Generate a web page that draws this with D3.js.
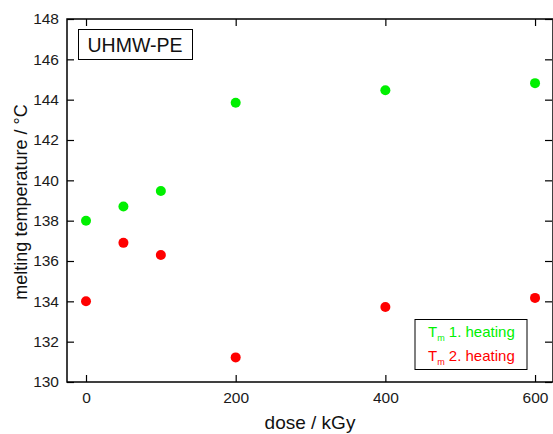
<!DOCTYPE html>
<html>
<head>
<script src="https://d3js.org/d3.v7.min.js"></script>
<style>
body{margin:0;background:#fff;}
text{font-family:"Liberation Sans",Arial,sans-serif;}
</style>
</head>
<body>
<script>
var doses=[0,50,100,200,400,600];
var tm1=[138.0,138.7,139.47,143.85,144.47,144.82];
var tm2=[134.0,136.9,136.3,131.22,133.72,134.17];
var xTicks=[0,200,400,600];
var yTicks=[130,132,134,136,138,140,142,144,146,148];

var W=553,H=434;
var margin={top:19,right:0,bottom:52,left:67};

var svg=d3.select("body").append("svg").attr("width",W).attr("height",H);

var x=d3.scaleLinear().domain([-25.4,624]).range([margin.left,W-margin.right]);
var y=d3.scaleLinear().domain([130,148]).range([H-margin.bottom,margin.top]);

// frame
svg.append("rect").attr("x",x.range()[0]).attr("y",y.range()[1])
 .attr("width",x.range()[1]-x.range()[0]).attr("height",y.range()[0]-y.range()[1])
 .attr("fill","none").attr("stroke","#000").attr("stroke-width",1.5);

var fmt=d3.format("d");
var bottom=svg.append("g").attr("transform","translate(0,"+y.range()[0]+")")
 .call(d3.axisBottom(x).tickValues(xTicks).tickSize(-7).tickPadding(10).tickFormat(fmt));
var top_=svg.append("g").attr("transform","translate(0,"+y.range()[1]+")")
 .call(d3.axisTop(x).tickValues(xTicks).tickSize(-7).tickFormat(""));
var left=svg.append("g").attr("transform","translate("+x.range()[0]+",0)")
 .call(d3.axisLeft(y).tickValues(yTicks).tickSize(-7).tickPadding(8).tickFormat(fmt));
var right=svg.append("g").attr("transform","translate("+(x.range()[1]-1)+",0)")
 .call(d3.axisRight(y).tickValues(yTicks).tickSize(-7).tickFormat(""));

[bottom,top_,left,right].forEach(function(g){
 g.select(".domain").remove();
 g.selectAll(".tick line").attr("stroke","#000").attr("stroke-width",1.2);
 g.selectAll(".tick text").attr("font-size",15.5).attr("fill","#1a1a1a")
  .attr("font-family","'Liberation Sans',Arial,sans-serif");
});

// points
svg.append("g").selectAll("circle").data(doses).enter().append("circle")
 .attr("cx",function(d){return x(d);}).attr("cy",function(d,i){return y(tm1[i]);})
 .attr("r",5).attr("fill","#00f000");
svg.append("g").selectAll("circle").data(doses).enter().append("circle")
 .attr("cx",function(d){return x(d);}).attr("cy",function(d,i){return y(tm2[i]);})
 .attr("r",5).attr("fill","#ff0000");

// axis titles
svg.append("text").attr("x",310).attr("y",429).attr("text-anchor","middle")
 .attr("font-size",19).attr("fill","#111").text("dose / kGy");
svg.append("text").attr("transform","translate(27,202) rotate(-90)").attr("text-anchor","middle")
 .attr("font-size",18).attr("fill","#111").text("melting temperature / °C");

// sample label box
svg.append("rect").attr("x",78.5).attr("y",29.5).attr("width",114).attr("height",30)
 .attr("fill","#fff").attr("stroke","#000").attr("stroke-width",1);
svg.append("text").attr("x",135).attr("y",52).attr("text-anchor","middle")
 .attr("font-size",19.5).attr("fill","#111").text("UHMW-PE");

// legend
var legend=[{lbl:" 1. heating",c:"#00f000"},{lbl:" 2. heating",c:"#ff0000"}];
svg.append("rect").attr("x",415).attr("y",319.5).attr("width",112).attr("height",50)
 .attr("fill","#fff").attr("stroke","#000").attr("stroke-width",1);
legend.forEach(function(l,i){
 var t=svg.append("text").attr("x",428).attr("y",337+i*24).attr("font-size",15).attr("fill",l.c);
 t.append("tspan").text("T");
 t.append("tspan").attr("font-size",9).attr("dy",4).text("m");
 t.append("tspan").attr("dy",-4).text(l.lbl);
});
</script>
</body>
</html>
